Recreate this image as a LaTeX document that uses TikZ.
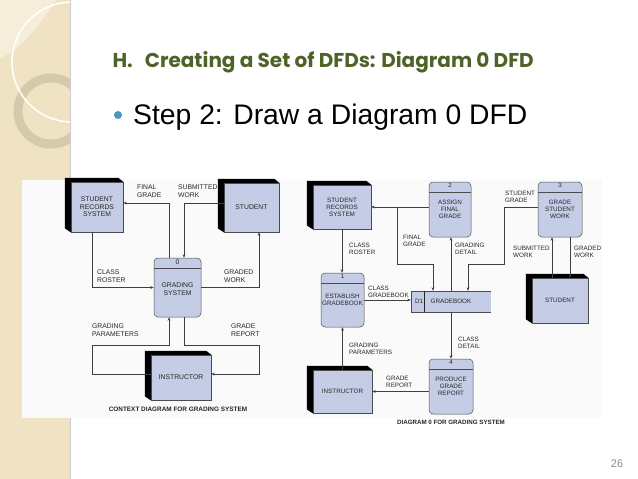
\documentclass[tikz,border=0pt]{standalone}
\usepackage{fontspec}
\setmainfont{Liberation Sans}
\newfontfamily\headfont{Poppins}
\usetikzlibrary{arrows.meta,calc,positioning}

\definecolor{faceblue}{RGB}{197,205,230}
\definecolor{headgreen}{RGB}{79,98,40}
\definecolor{stripbeige}{RGB}{240,227,196}
\definecolor{ringbeige}{RGB}{210,198,170}
\definecolor{bulletteal}{RGB}{72,152,184}

% black 3-D edge on the left and top of an external entity
\newcommand{\entshade}[1]{\fill[black] (#1.south west) -- ++(-6,-4) -- ($(#1.north west)+(-6,-4)$) -- ($(#1.north east)+(-5,-4)$) -- (#1.north east) -- (#1.north west) -- cycle;}

\begin{document}
\begin{tikzpicture}[x=1pt,y=-1pt,>={Stealth[length=3.5pt,width=2.8pt]}]
\tikzstyle{entity}=[draw=black!70,fill=faceblue,line width=0.5pt,align=center,inner sep=1pt]
\tikzstyle{process}=[draw=black!70,fill=faceblue,line width=0.5pt,rounded corners=4pt,align=center,inner sep=1pt,
  path picture={\draw[black!70,line width=0.5pt] ([yshift=-10pt]path picture bounding box.north west) -- ([yshift=-10pt]path picture bounding box.north east);}]
\tikzstyle{pnum}=[anchor=north,inner sep=1.5pt]
\tikzstyle{flow}=[->,draw=black!75,line width=0.6pt]
\tikzstyle{lbl}=[anchor=north west,align=left,inner sep=0pt]
\useasboundingbox (0,0) rectangle (638,479);

% slide background
\fill[white] (0,0) rectangle (638,479);
\fill[stripbeige] (0,0) rectangle (70,479);
\fill[white,opacity=0.4] (0,0) -- (56,0) .. controls (40,25) and (22,48) .. (0,58) -- cycle;
\begin{scope}
\clip (0,0) rectangle (70,479);
\draw[ringbeige,line width=9pt,opacity=0.85] (51,111) circle (33pt);
\draw[white,line width=1.6pt] (72,62) circle (60pt);
\end{scope}
\draw[black!20] (70,0) -- (70,479);

\node[anchor=base west,text=headgreen,font=\headfont\bfseries\fontsize{20}{24}\selectfont] (title) at (109,67) {H.\hspace{12pt}Creating a Set of DFDs: Diagram 0 DFD};
\fill[bulletteal] (118,115) circle (4pt);
\node[anchor=base west,inner sep=0pt,font=\fontsize{28.3}{32}\selectfont] (step) at (133,124) {Step 2: Draw a Diagram 0 DFD};
\node[text=black!45,font=\fontsize{11}{13}\selectfont] (pageno) at (617,464) {26};

% scanned figure area
\fill[black!2] (22,180) rectangle (602,418);

% context diagram
\begin{scope}[font=\fontsize{6.8}{7.6}\selectfont,text=black!85]
\node[entity,minimum width=52pt,minimum height=50pt] (lsrs) at (97,207) {STUDENT\\RECORDS\\SYSTEM};
\node[entity,minimum width=55pt,minimum height=49pt] (lstu) at (251.5,207.5) {STUDENT};
\node[process,minimum width=47pt,minimum height=59pt,label={[pnum]north:0}] (lproc) at (177.5,287.5) {\\GRADING\\SYSTEM};
\node[entity,minimum width=60pt,minimum height=45pt] (linst) at (181,377.5) {INSTRUCTOR};
\entshade{lsrs}
\entshade{lstu}
\entshade{linst}

\draw[flow] ([xshift=-8.5pt]lproc.north) |- ([yshift=4pt]lsrs.east);
\draw[flow] ([yshift=4pt]lstu.west) -| ([xshift=6.5pt]lproc.north);
\draw[flow] ([xshift=-5pt]lsrs.south) |- (lproc.west);
\draw[flow] (lproc.east) -| ([xshift=7.5pt]lstu.south);
\draw[flow] ([yshift=3.5pt]linst.west) -| ([xshift=-85.5pt,yshift=-28pt]lproc.south) -| ([xshift=-8.5pt]lproc.south);
\draw[flow] ([xshift=6.5pt]lproc.south) |- ([xshift=81.5pt,yshift=-28pt]lproc.south) |- ([yshift=3.5pt]linst.east);

\node[lbl] (lfinal) at (137,185) {FINAL\\GRADE};
\node[lbl] (lsubmit) at (178,185) {SUBMITTED\\WORK};
\node[lbl] (lroster) at (97,270) {CLASS\\ROSTER};
\node[lbl] (lgraded) at (224,270) {GRADED\\WORK};
\node[lbl] (lparam) at (92,324) {GRADING\\PARAMETERS};
\node[lbl] (lreport) at (231,324) {GRADE\\REPORT};
\node[font=\bfseries\fontsize{6.4}{7}\selectfont] (lcaption) at (178,409) {CONTEXT DIAGRAM FOR GRADING SYSTEM};
\end{scope}

% diagram 0
\begin{scope}[font=\fontsize{6.3}{7}\selectfont,text=black!85]
\node[entity,minimum width=58pt,minimum height=44pt] (rsrs) at (342,207) {STUDENT\\RECORDS\\SYSTEM};
\node[process,minimum width=42pt,minimum height=55pt,label={[pnum]north:2}] (rp2) at (450,209.5) {ASSIGN\\FINAL\\GRADE};
\node[process,minimum width=44pt,minimum height=55pt,label={[pnum]north:3}] (rp3) at (560,209.5) {GRADE\\STUDENT\\WORK};
\node[process,minimum width=43pt,minimum height=54pt,label={[pnum]north:1}] (rp1) at (342.5,300) {ESTABLISH\\GRADEBOOK};
\node[fill=faceblue,minimum width=80pt,minimum height=21pt,inner sep=1pt,
  label={[anchor=west,inner sep=0pt,xshift=4pt]west:D1}] (rd1) at (451,301.5) {GRADEBOOK};
\draw[black!70,line width=0.5pt] (rd1.north east) -- (rd1.north west) -- (rd1.south west) -- (rd1.south east);
\draw[black!85,line width=0.8pt] ([xshift=14pt]rd1.north west) -- ([xshift=14pt]rd1.south west);
\node[entity,minimum width=56pt,minimum height=45pt] (rstu) at (560,300.5) {STUDENT};
\node[process,minimum width=44pt,minimum height=55pt,label={[pnum]north:4}] (rp4) at (451,386.5) {PRODUCE\\GRADE\\REPORT};
\node[entity,minimum width=59pt,minimum height=43pt] (rinst) at (342.5,391.5) {INSTRUCTOR};
\entshade{rsrs}
\entshade{rstu}
\entshade{rinst}

\draw[flow] (rp2.west |- rsrs.east) -- (rsrs.east);
\draw[flow] ([xshift=26pt]rsrs.east) |- ([xshift=-18pt,yshift=27pt]rd1.north) -- ([xshift=-18pt]rd1.north);
\draw[flow] (rd1.north) -- (rd1.north |- rp2.south);
\draw[flow] ([yshift=2.5pt]rp3.west) -| ([xshift=53pt,yshift=27pt]rd1.north) -| ([xshift=17pt]rd1.north);
\draw[flow] ([xshift=-8pt]rstu.north) -- ([xshift=-8pt]rp3.south);
\draw[flow] ([xshift=10pt]rp3.south) -- ([xshift=10pt]rstu.north);
\draw[flow] (rsrs.south) -- (rsrs.south |- rp1.north);
\draw[flow] (rp1.east) -- (rp1.east -| rd1.west);
\draw[flow] (rd1.south) -- (rd1.south |- rp4.north);
\draw[flow] (rinst.north) -- (rinst.north |- rp1.south);
\draw[flow] (rinst.east -| rp4.west) -- (rinst.east);

\node[lbl] (rfinal) at (403,235) {FINAL\\GRADE};
\node[lbl] (rdetail) at (455,243) {GRADING\\DETAIL};
\node[lbl] (rstgrade) at (505,191) {STUDENT\\GRADE};
\node[lbl] (rsubmit) at (513,246) {SUBMITTED\\WORK};
\node[lbl] (rgraded) at (574,246) {GRADED\\WORK};
\node[lbl] (rroster) at (349,243) {CLASS\\ROSTER};
\node[lbl] (rclassgb) at (368,286) {CLASS\\GRADEBOOK};
\node[lbl] (rcdetail) at (458,337) {CLASS\\DETAIL};
\node[lbl] (rparam) at (349,343) {GRADING\\PARAMETERS};
\node[lbl] (rreport) at (386,376) {GRADE\\REPORT};
\node[font=\bfseries\fontsize{6.2}{7}\selectfont] (rcaption) at (451,422) {DIAGRAM 0 FOR GRADING SYSTEM};
\end{scope}
\end{tikzpicture}
\end{document}
